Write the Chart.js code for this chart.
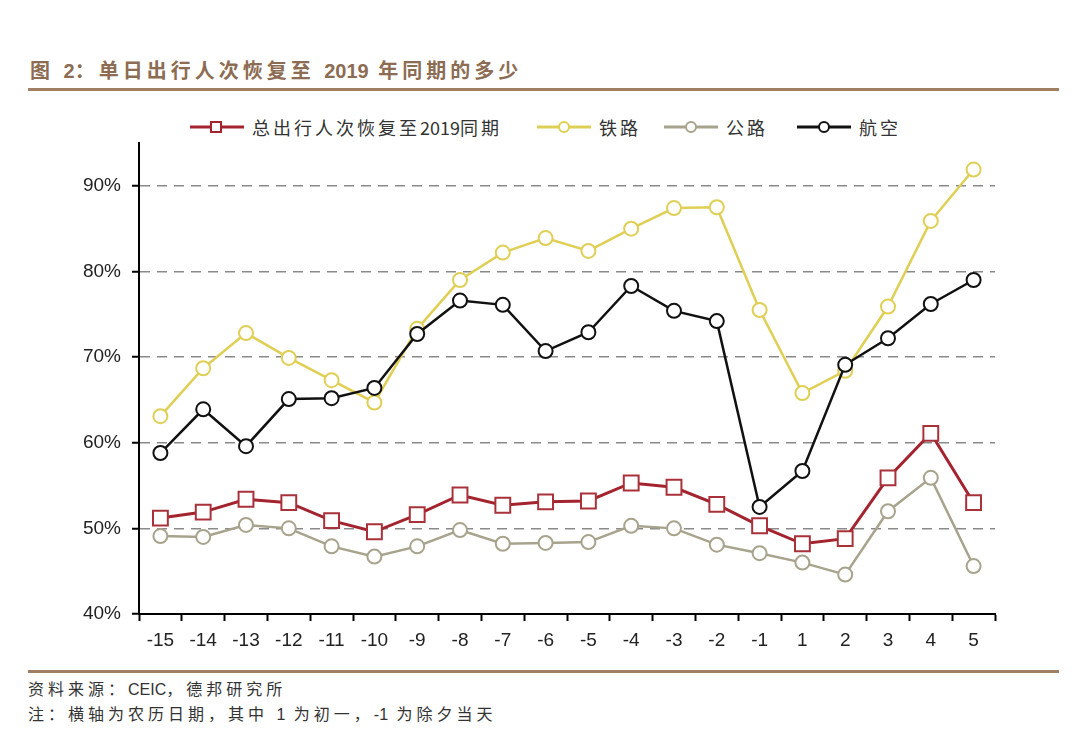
<!DOCTYPE html>
<html>
<head>
<meta charset="utf-8">
<script src="https://cdn.jsdelivr.net/npm/chart.js@4.4.0/dist/chart.umd.min.js"></script>
<style>
  body { margin: 0; background: #fff; width: 1080px; height: 739px; position: relative; overflow: hidden;
         font-family: "Liberation Sans", Arial, "Noto Sans CJK SC", sans-serif; }
  .title { position: absolute; left: 30px; top: 55px; font-size: 20px; font-weight: bold; color: #8c6c52;
           letter-spacing: 4px; font-family: "Liberation Sans", "Noto Sans CJK SC", sans-serif; }
  .num { letter-spacing: 0; }
  .rule { position: absolute; left: 28px; width: 1031px; height: 3px; background: #9f8064; }
  .legend-item { position: absolute; top: 117px; display: flex; align-items: center; height: 20px;
                 font-family: "Noto Sans CJK SC", sans-serif; font-size: 18px; color: #333; letter-spacing: 3px; }
  .legend-item svg { margin-right: 8px; }
  .note { position: absolute; left: 28px; font-size: 16px; color: #333; letter-spacing: 4px;
          font-family: "Liberation Sans", "Noto Sans CJK SC", sans-serif; }
  #wrap { position: absolute; left: 0; top: 130px; width: 1080px; height: 540px; }
</style>
</head>
<body>
<div class="title">图 <span class="num">2</span>：单日出行人次恢复至 <span class="num">2019</span> 年同期的多少</div>
<div class="rule" style="top:88px"></div>

<div class="legend-item" style="left:190px">
  <svg width="54" height="16"><line x1="0" y1="8" x2="54" y2="8" stroke="#a3242e" stroke-width="3"/><rect x="21" y="3" width="10" height="10" fill="#fff" stroke="#a3242e" stroke-width="2"/></svg>总出行人次恢复至<span class="num">2019</span>同期
</div>
<div class="legend-item" style="left:537px">
  <svg width="54" height="16"><line x1="0" y1="8" x2="54" y2="8" stroke="#e0cf55" stroke-width="3"/><circle cx="27" cy="8" r="5" fill="#fff" stroke="#e0cf55" stroke-width="2"/></svg>铁路
</div>
<div class="legend-item" style="left:664px">
  <svg width="54" height="16"><line x1="0" y1="8" x2="54" y2="8" stroke="#a8a38c" stroke-width="3"/><circle cx="27" cy="8" r="5" fill="#fff" stroke="#a8a38c" stroke-width="2"/></svg>公路
</div>
<div class="legend-item" style="left:797px">
  <svg width="54" height="16"><line x1="0" y1="8" x2="54" y2="8" stroke="#111" stroke-width="3"/><circle cx="27" cy="8" r="5" fill="#fff" stroke="#111" stroke-width="2"/></svg>航空
</div>

<div id="wrap"><canvas id="chart" width="1080" height="540"></canvas></div>

<div class="rule" style="top:670px"></div>
<div class="note" style="top:676px">资料来源：<span class="num">CEIC</span>，德邦研究所</div>
<div class="note" style="top:701px">注：横轴为农历日期，其中 <span class="num">1</span> 为初一，<span class="num">-1</span> 为除夕当天</div>

<script>
// 农历日期 (-1 = 除夕, 1 = 初一)
const days = ['-15', '-14', '-13', '-12', '-11', '-10', '-9', '-8', '-7', '-6',
              '-5', '-4', '-3', '-2', '-1', '1', '2', '3', '4', '5'];

// 恢复至2019同期 (%)
const totalTrips = [51.2, 51.9, 53.4, 53.0, 50.9, 49.6, 51.6, 53.9, 52.7, 53.1,
                    53.2, 55.3, 54.8, 52.8, 50.3, 48.2, 48.8, 55.9, 61.1, 53.0];
const railway = [63.1, 68.7, 72.8, 69.9, 67.3, 64.7, 73.3, 79.0, 82.2, 83.9,
                 82.4, 85.0, 87.4, 87.5, 75.5, 65.8, 68.4, 75.9, 85.9, 91.9];
const highway = [49.1, 49.0, 50.4, 50.0, 47.9, 46.7, 47.9, 49.8, 48.2, 48.3,
                 48.4, 50.3, 50.0, 48.1, 47.1, 46.0, 44.6, 52.0, 55.9, 45.6];
const aviation = [58.8, 63.9, 59.6, 65.1, 65.2, 66.4, 72.7, 76.6, 76.1, 70.7,
                  72.9, 78.3, 75.4, 74.2, 52.5, 56.7, 69.1, 72.2, 76.2, 79.0];

const yTicks = [40, 50, 60, 70, 80, 90];

const ctx = document.getElementById('chart').getContext('2d');

new Chart(ctx, {
  type: 'line',
  data: {
    labels: days,
    datasets: [
      {
        label: '总出行人次恢复至2019同期',
        data: totalTrips,
        borderColor: '#a3242e',
        borderWidth: 3,
        pointStyle: 'rect',
        pointRadius: 10.5,
        pointBorderWidth: 2,
        pointBorderColor: '#a8313a',
        pointBackgroundColor: '#fff',
        order: 1
      },
      {
        label: '铁路',
        data: railway,
        borderColor: '#e0cf55',
        borderWidth: 2.5,
        pointRadius: 7,
        pointBorderWidth: 2,
        pointBackgroundColor: '#fff',
        order: 3
      },
      {
        label: '公路',
        data: highway,
        borderColor: '#a8a38c',
        borderWidth: 2.5,
        pointRadius: 7,
        pointBorderWidth: 2,
        pointBackgroundColor: '#fff',
        order: 2
      },
      {
        label: '航空',
        data: aviation,
        borderColor: '#111',
        borderWidth: 2.5,
        pointRadius: 7,
        pointBorderWidth: 2,
        pointBackgroundColor: '#fff',
        order: 0
      }
    ]
  },
  options: {
    responsive: false,
    animation: false,
    devicePixelRatio: 1,
    layout: { padding: { left: 0, right: 85, top: 13, bottom: 0 } },
    plugins: {
      legend: { display: false },
      tooltip: { enabled: false }
    },
    scales: {
      x: {
        type: 'category',
        offset: true,
        afterFit: (scale) => { scale.height = 56; },
        grid: {
          offset: true,
          drawOnChartArea: false,
          drawTicks: true,
          tickLength: 7,
          tickColor: '#000',
          tickWidth: 2
        },
        border: { color: '#000', width: 2 },
        ticks: {
          color: '#222',
          font: { size: 19, family: '"Liberation Sans", Arial, sans-serif' },
          padding: 8,
          maxRotation: 0,
          autoSkip: false
        }
      },
      y: {
        min: 40,
        max: 95,
        afterFit: (scale) => {
          scale.width = 139;
          scale.paddingTop = 0;
          scale.paddingBottom = 0;
        },
        afterBuildTicks: (scale) => { scale.ticks = yTicks.map(v => ({ value: v })); },
        grid: {
          color: (c) => (c.tick && c.tick.value === 40 ? 'rgba(0,0,0,0)' : '#8a8a8a'),
          lineWidth: 1.5,
          drawTicks: true,
          tickLength: 7,
          tickColor: '#000',
          tickWidth: 2
        },
        border: { color: '#000', width: 2, dash: [10, 7] },
        ticks: {
          color: '#222',
          font: { size: 19, family: '"Liberation Sans", Arial, sans-serif' },
          padding: 11,
          callback: (v) => v + '%'
        }
      }
    }
  }
});
</script>
</body>
</html>
